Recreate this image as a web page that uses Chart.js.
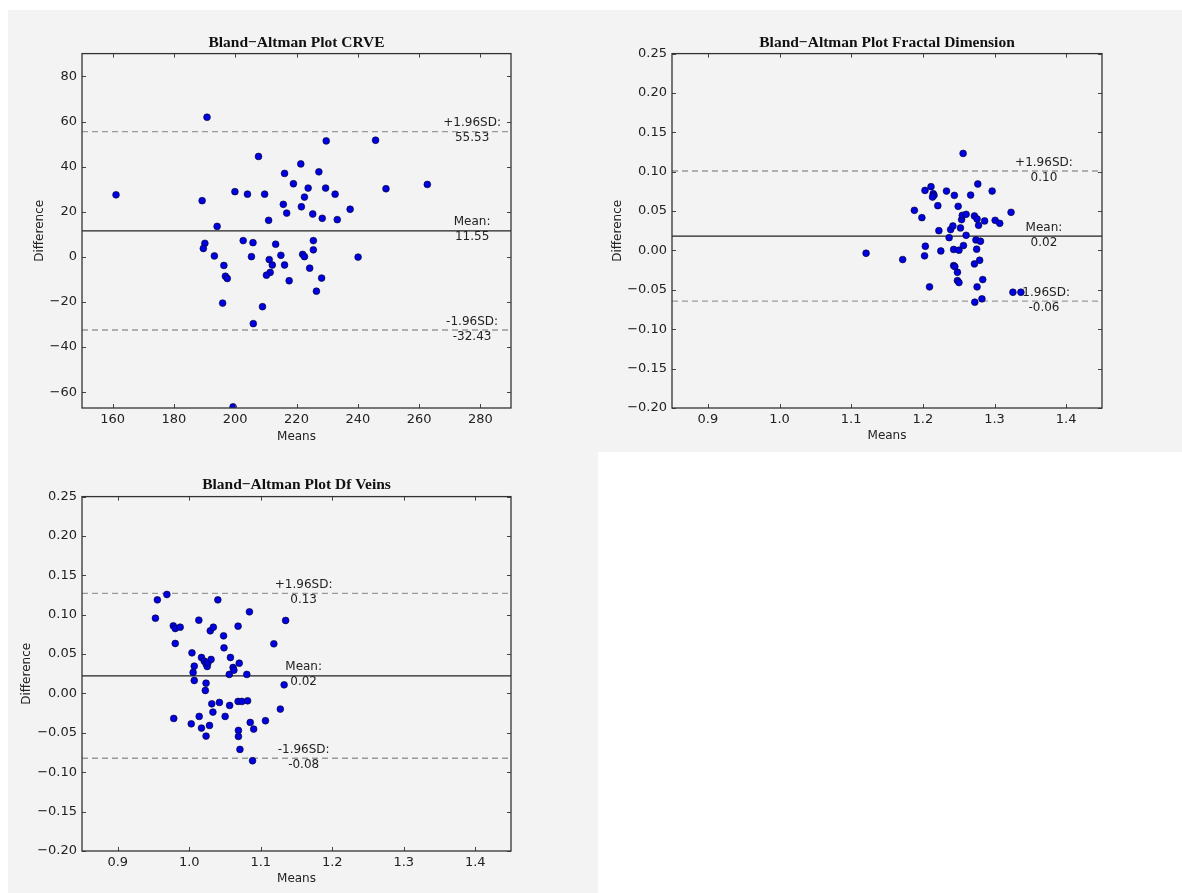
<!DOCTYPE html>
<html>
<head>
<meta charset="utf-8">
<title>Bland-Altman plots</title>
<script src="https://cdn.jsdelivr.net/npm/chart.js@4.4.1/dist/chart.umd.min.js"></script>
<style>
  body { margin: 0; background: #fff; width: 1182px; height: 893px; position: relative; overflow: hidden; }
  .bg { position: absolute; background: #f3f3f3; }
  canvas { position: absolute; }
</style>
</head>
<body>
<div class="bg" style="left:8px;top:10px;width:1174px;height:442px"></div>
<div class="bg" style="left:8px;top:452px;width:590px;height:441px"></div>
<canvas id="crveChart" width="590" height="442" style="left:8px;top:10px"></canvas>
<canvas id="fdChart" width="584" height="442" style="left:598px;top:10px"></canvas>
<canvas id="dfvChart" width="590" height="441" style="left:8px;top:452px"></canvas>
<script>
// CRVE: means and differences
var crveMeans = [161.1, 190.8, 189.2, 194.1, 190.1, 189.6, 193.2, 196.3, 196.8, 197.4,
    195.9, 199.9, 204.0, 207.6, 209.6, 202.6, 205.8, 205.3, 205.9, 208.9,
    199.3, 210.9, 213.2, 214.9, 211.1, 212.1, 211.4, 210.2, 216.1, 217.6,
    215.7, 216.1, 216.8, 219.0, 221.4, 221.6, 222.6, 223.8, 225.3, 227.3,
    228.4, 229.5, 229.7, 232.6, 233.3, 237.5, 225.5, 225.5, 222.0, 222.6,
    224.3, 228.2, 226.5, 240.1, 245.8, 249.2, 262.7];
var crveDiffs = [27.5, 61.9, 24.9, 13.5, 6.0, 3.7, 0.4, -3.8, -8.6, -9.6,
    -20.5, 28.9, 27.8, 44.5, 27.8, 7.2, 6.3, 0.1, -29.6, -22.1,
    -66.5, 16.2, 5.6, 0.7, -1.2, -3.6, -6.9, -8.1, -3.6, -10.6,
    23.3, 37.0, 19.4, 32.4, 41.2, 22.2, 26.5, 30.5, 19.0, 37.7,
    17.1, 30.5, 51.4, 27.8, 16.5, 21.1, 7.2, 3.1, 1.1, 0.1,
    -5.0, -9.4, -15.2, -0.1, 51.7, 30.2, 32.1];
var crveLimits = [-32.43, 11.55, 55.53];   // lower, mean, upper
var crveXRange = [150, 290];
var crveYRange = [-67, 90.1];
var crveXTicks = [160, 180, 200, 220, 240, 260, 280];
var crveYTicks = [-60, -40, -20, 0, 20, 40, 60, 80];

// Fractal dimension
var fdMeans = [1.1208, 1.1719, 1.1882, 1.1987, 1.2030, 1.2114, 1.2145, 1.2156, 1.2135, 1.2209,
    1.2330, 1.2440, 1.2493, 1.2667, 1.2767, 1.2967, 1.2035, 1.2024, 1.2224, 1.2251,
    1.2367, 1.2388, 1.2419, 1.2430, 1.2504, 1.2525, 1.2541, 1.2551, 1.2604, 1.2604,
    1.2567, 1.2562, 1.2430, 1.2446, 1.2483, 1.2483, 1.2504, 1.2093, 1.2720, 1.2757,
    1.2778, 1.2862, 1.2741, 1.2804, 1.2751, 1.2793, 1.2720, 1.2836, 1.2757, 1.2825,
    1.2725, 1.3009, 1.3073, 1.3231, 1.3257, 1.3368];
var fdDiffs = [-0.0035, -0.0115, 0.0510, 0.0417, 0.0763, 0.0810, 0.0721, 0.0700, 0.0679, 0.0569,
    0.0755, 0.0700, 0.0561, 0.0704, 0.0844, 0.0755, 0.0054, -0.0068, 0.0252, -0.0006,
    0.0163, 0.0265, 0.0311, 0.0013, 0.0004, 0.0286, 0.0392, 0.0447, 0.0459, 0.0193,
    0.0063, 0.1232, -0.0192, -0.0204, -0.0276, -0.0382, -0.0407, -0.0462, 0.0438, 0.0400,
    0.0320, 0.0375, 0.0134, 0.0117, 0.0017, -0.0124, -0.0170, -0.0369, -0.0462, -0.0614,
    -0.0656, 0.0383, 0.0345, 0.0485, -0.0530, -0.0530];
var fdLimits = [-0.0643, 0.0183, 0.1009];
var fdXRange = [0.85, 1.45];
var fdYRange = [-0.20, 0.25];

// Df veins
var dfvMeans = [0.9527, 0.9554, 0.9687, 0.9777, 0.9804, 0.9873, 0.9804, 0.9783, 1.0038, 1.0070,
    1.0054, 1.0070, 1.0028, 1.0134, 1.0171, 1.0209, 1.0235, 1.0251, 1.0262, 1.0305,
    1.0294, 1.0337, 1.0235, 1.0225, 1.0139, 1.0171, 1.0235, 1.0283, 1.0315, 1.0331,
    1.0422, 1.0400, 1.0480, 1.0486, 1.0576, 1.0560, 1.0613, 1.0624, 1.0699, 1.0683,
    1.0565, 1.0502, 1.0683, 1.0736, 1.0816, 1.0805, 1.0842, 1.0688, 1.0688, 1.0709,
    1.0853, 1.0901, 1.0885, 1.1066, 1.1183, 1.1274, 1.1327, 1.1348];
var dfvDiffs = [0.0956, 0.1189, 0.1257, 0.0859, 0.0825, 0.0842, 0.0635, -0.0317, 0.0516, 0.0347,
    0.0267, 0.0165, -0.0385, 0.0931, 0.0457, 0.0411, 0.0377, 0.0343, 0.0389, 0.0432,
    0.0796, 0.0842, 0.0131, 0.0038, -0.0291, -0.0439, -0.0541, -0.0406, -0.0131, -0.0236,
    -0.0114, 0.1189, 0.0732, 0.0580, 0.0457, 0.0242, 0.0330, 0.0296, 0.0385, 0.0855,
    -0.0152, -0.0291, -0.0101, -0.0101, -0.0093, 0.0242, 0.1037, -0.0469, -0.0545, -0.0710,
    -0.0368, -0.0452, -0.0854, -0.0346, 0.0631, -0.0198, 0.0110, 0.0927];
var dfvLimits = [-0.0822, 0.0224, 0.1272];
var dfvXRange = [0.85, 1.45];
var dfvYRange = [-0.20, 0.25];

var ratioXTicks = [0.9, 1.0, 1.1, 1.2, 1.3, 1.4];
var ratioYTicks = [-0.20, -0.15, -0.10, -0.05, 0.00, 0.05, 0.10, 0.15, 0.20, 0.25];

var tickFont = { family: 'DejaVu Sans', size: 13 };
var labelFont = { family: 'DejaVu Sans', size: 12 };

function fmt(v, digits) {
    var s = Math.abs(v).toFixed(digits);
    return (v < 0 && Number(s) !== 0 ? '\u2212' : '') + s;
}

// frame, inward ticks and the SD / mean labels
var baDecor = {
    id: 'baDecor',
    beforeDatasetsDraw: function (chart, args, opts) {
        var ctx = chart.ctx, x = chart.scales.x, y = chart.scales.y;
        ctx.save();
        ctx.fillStyle = '#222';
        ctx.font = '12px "DejaVu Sans"';
        ctx.textAlign = 'center';
        ctx.textBaseline = 'middle';
        opts.notes.forEach(function (n) {
            var px = x.getPixelForValue(opts.noteX), py = y.getPixelForValue(n.value);
            ctx.fillText(n.head, px, py - 8.5);
            ctx.fillText(n.value.toFixed(2), px, py + 6.5);
        });
        ctx.restore();
    },
    afterDraw: function (chart) {
        var ctx = chart.ctx, a = chart.chartArea, x = chart.scales.x, y = chart.scales.y;
        ctx.save();
        ctx.strokeStyle = '#444';
        ctx.lineWidth = 1;
        ctx.beginPath();
        x.ticks.forEach(function (t) {
            var px = Math.round(x.getPixelForValue(t.value)) + 0.5;
            ctx.moveTo(px, a.bottom); ctx.lineTo(px, a.bottom - 4);
            ctx.moveTo(px, a.top); ctx.lineTo(px, a.top + 4);
        });
        y.ticks.forEach(function (t) {
            var py = Math.round(y.getPixelForValue(t.value)) + 0.5;
            ctx.moveTo(a.left, py); ctx.lineTo(a.left + 4, py);
            ctx.moveTo(a.right, py); ctx.lineTo(a.right - 4, py);
        });
        ctx.stroke();
        ctx.strokeStyle = '#333';
        ctx.lineWidth = 1.3;
        ctx.strokeRect(a.left, a.top, a.right - a.left, a.bottom - a.top);
        ctx.restore();
    }
};

function baPlot(id, title, means, diffs, limits, xRange, yRange, xTicks, yTicks, xDigits, yDigits, noteX, lay) {
    var pts = means.map(function (m, i) { return { x: m, y: diffs[i] }; });
    var hline = function (v) { return [{ x: xRange[0], y: v }, { x: xRange[1], y: v }]; };
    return new Chart(document.getElementById(id), {
        type: 'scatter',
        data: {
            datasets: [{
                data: pts,
                backgroundColor: '#0000e0',
                borderColor: '#000022',
                borderWidth: 0.6,
                pointRadius: 3.4,
                clip: 0
            }, {
                data: hline(limits[1]),
                showLine: true, pointRadius: 0,
                borderColor: '#222', borderWidth: 1.3
            }, {
                data: hline(limits[2]),
                showLine: true, pointRadius: 0,
                borderColor: '#999', borderWidth: 1.3, borderDash: [6, 4]
            }, {
                data: hline(limits[0]),
                showLine: true, pointRadius: 0,
                borderColor: '#999', borderWidth: 1.3, borderDash: [6, 4]
            }]
        },
        options: {
            responsive: false,
            devicePixelRatio: 1,
            animation: false,
            layout: { padding: { left: 0, right: lay.right, top: 0, bottom: 0 } },
            scales: {
                x: {
                    type: 'linear', min: xRange[0], max: xRange[1],
                    afterBuildTicks: function (s) { s.ticks = xTicks.map(function (v) { return { value: v }; }); },
                    afterFit: function (s) { s.height = lay.xAxis; },
                    grid: { display: false, drawTicks: false },
                    border: { display: false },
                    ticks: { padding: 4, color: '#222', font: tickFont, maxRotation: 0, autoSkip: false,
                        callback: function (v) { return fmt(v, xDigits); } },
                    title: { display: true, text: 'Means', color: '#222', font: labelFont,
                        padding: { top: 0, bottom: lay.xTitle } }
                },
                y: {
                    type: 'linear', min: yRange[0], max: yRange[1],
                    afterBuildTicks: function (s) { s.ticks = yTicks.map(function (v) { return { value: v }; }); },
                    afterFit: function (s) { s.width = 74; },
                    grid: { display: false, drawTicks: false },
                    border: { display: false },
                    ticks: { padding: 5, color: '#222', font: tickFont, autoSkip: false,
                        callback: function (v) { return fmt(v, yDigits); } },
                    title: { display: true, text: 'Difference', color: '#222', font: labelFont,
                        padding: { top: lay.yTitle, bottom: 0 } }
                }
            },
            plugins: {
                legend: { display: false },
                tooltip: { enabled: false },
                title: {
                    display: true, text: title, fullSize: false, color: '#111',
                    font: { family: 'Liberation Serif', size: 15.5, weight: 'bold' },
                    padding: { top: 24, bottom: lay.titleBottom }
                },
                baDecor: {
                    noteX: noteX,
                    notes: [
                        { head: '+1.96SD:', value: limits[2] },
                        { head: 'Mean:', value: limits[1] },
                        { head: '-1.96SD:', value: limits[0] }
                    ]
                }
            }
        },
        plugins: [baDecor]
    });
}

baPlot('crveChart', 'Bland\u2212Altman Plot CRVE', crveMeans, crveDiffs, crveLimits,
    crveXRange, crveYRange, crveXTicks, crveYTicks, 0, 0, 277.3,
    { right: 87, xAxis: 44, xTitle: 8, yTitle: 25, titleBottom: 1 });
baPlot('fdChart', 'Bland\u2212Altman Plot Fractal Dimension', fdMeans, fdDiffs, fdLimits,
    fdXRange, fdYRange, ratioXTicks, ratioYTicks, 1, 2, 1.369,
    { right: 80, xAxis: 44, xTitle: 9, yTitle: 13, titleBottom: 1 });
baPlot('dfvChart', 'Bland\u2212Altman Plot Df Veins', dfvMeans, dfvDiffs, dfvLimits,
    dfvXRange, dfvYRange, ratioXTicks, ratioYTicks, 1, 2, 1.160,
    { right: 87, xAxis: 42, xTitle: 7, yTitle: 12, titleBottom: 2 });
</script>
</body>
</html>
